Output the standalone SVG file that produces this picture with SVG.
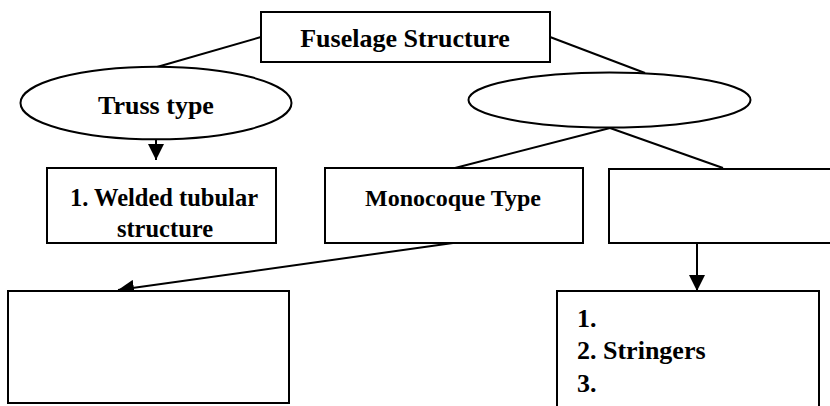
<svg xmlns="http://www.w3.org/2000/svg" width="830" height="406" viewBox="0 0 830 406">
<style>
.box{fill:#fff;stroke:#000;stroke-width:2}
.ln{fill:none;stroke:#000;stroke-width:2}
text{font-family:'Liberation Serif','DejaVu Serif',serif;font-weight:bold;fill:#000}
</style>
<defs>
<marker id="ah" markerUnits="userSpaceOnUse" markerWidth="16" markerHeight="16" refX="16" refY="8" orient="auto">
<path d="M0,0 L16,8 L0,16 z" fill="#000"/>
</marker>
</defs>
<rect width="830" height="406" fill="#fff"/>
<g id="connectors">
<line class="ln" x1="261" y1="37" x2="157" y2="67"/>
<line class="ln" x1="550" y1="37" x2="645" y2="73"/>
<line class="ln" x1="610" y1="128" x2="455" y2="168"/>
<line class="ln" x1="610" y1="128" x2="723" y2="168"/>
<line class="ln" x1="156" y1="139" x2="156" y2="160" marker-end="url(#ah)"/>
<line class="ln" x1="453" y1="243" x2="118" y2="290" marker-end="url(#ah)"/>
<line class="ln" x1="697" y1="243" x2="697" y2="291" marker-end="url(#ah)"/>
</g>
<g id="fuselage">
<rect class="box" x="261" y="12" width="289" height="50"/>
<text x="405" y="47" font-family="Liberation Serif" font-size="26" text-anchor="middle">Fuselage Structure</text>
</g>
<g id="truss">
<ellipse class="box" cx="156" cy="103" rx="135.5" ry="36.3"/>
<text x="156" y="114" font-family="Liberation Serif" font-size="26" text-anchor="middle">Truss type</text>
</g>
<g id="shell">
<ellipse class="box" cx="609.5" cy="100" rx="141" ry="27.5"/>
</g>
<g id="welded">
<rect class="box" x="47" y="168" width="229" height="75"/>
<text x="164" y="206" font-family="Liberation Serif" font-size="24.5" text-anchor="middle">1. Welded tubular</text>
<text x="165" y="237" font-family="Liberation Serif" font-size="24.5" text-anchor="middle">structure</text>
</g>
<g id="monocoque">
<rect class="box" x="325" y="168" width="258" height="75"/>
<text x="453" y="206" font-family="Liberation Serif" font-size="24" text-anchor="middle">Monocoque Type</text>
</g>
<g id="semimono">
<rect class="box" x="609" y="169" width="260" height="74"/>
</g>
<g id="bottomleft">
<rect class="box" x="8" y="291" width="281" height="112"/>
</g>
<g id="bottomright">
<rect class="box" x="557" y="291" width="262" height="130"/>
<text x="577" y="327" font-family="Liberation Serif" font-size="26">1.</text>
<text x="577" y="359" font-family="Liberation Serif" font-size="26">2. Stringers</text>
<text x="577" y="392" font-family="Liberation Serif" font-size="26">3.</text>
</g>
</svg>
